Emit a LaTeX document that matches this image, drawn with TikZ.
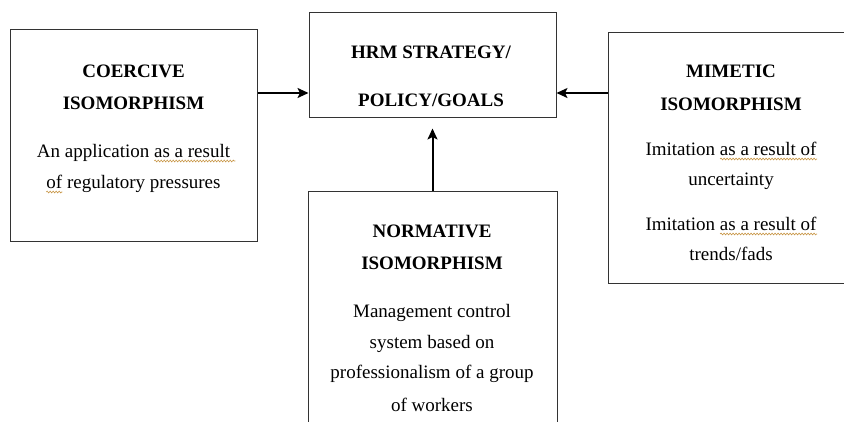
\documentclass[tikz,border=0pt]{standalone}
\usepackage{fontspec}
\setmainfont{Liberation Serif}
\usetikzlibrary{arrows.meta,decorations.pathmorphing}
\definecolor{wavec}{RGB}{200,150,70}
\begin{document}
\begin{tikzpicture}[x=1pt,y=-1pt,
  box/.style={draw=black!80, line width=1pt, rectangle, inner sep=0pt, fill=none},
  txt/.style={anchor=base, inner sep=0pt, font=\fontsize{19}{23}\selectfont},
  hd/.style={anchor=base, inner sep=0pt, font=\fontsize{19}{23}\selectfont\bfseries},
  ph/.style={anchor=base west, inner sep=0pt, font=\fontsize{19}{23}\selectfont},
  wave/.style={draw=wavec, line width=0.6pt, decorate, decoration={snake, amplitude=0.9pt, segment length=3pt}},
  arr/.style={line width=2pt, -{Stealth[length=11pt,width=10pt,inset=2.5pt]}}]
\useasboundingbox (0,0) rectangle (844,421);
\fill[white] (0,0) rectangle (844,421);
\clip (0,0) rectangle (844,421);
% boxes
\node[box, minimum width=247pt, minimum height=212pt] (coer) at (133.5,135) {};
\node[box, minimum width=247pt, minimum height=105pt] (hrm) at (432.5,64.5) {};
\node[box, minimum width=249pt, minimum height=260pt] (norm) at (432.5,321) {};
\node[box, minimum width=246pt, minimum height=251pt] (mim) at (731,157.5) {};
% coercive text
\node[hd] (c1) at (133.5,77) {COERCIVE};
\node[hd] (c2) at (133.5,109) {ISOMORPHISM};
\node[txt] (c3) at (133.5,157) {An application as a result};
\node[txt] (c4) at (133.5,188) {of regulatory pressures};
% hrm text
\node[hd] (h1) at (431,58) {HRM STRATEGY/};
\node[hd] (h2) at (431,106) {POLICY/GOALS};
% normative text
\node[hd] (n1) at (432,237) {NORMATIVE};
\node[hd] (n2) at (432,269) {ISOMORPHISM};
\node[txt] (n3) at (432,317) {Management control};
\node[txt] (n4) at (432,348) {system based on};
\node[txt] (n5) at (432,378) {professionalism of a group};
\node[txt] (n6) at (432,411) {of workers};
% mimetic text
\node[hd] (m1) at (731,77) {MIMETIC};
\node[hd] (m2) at (731,110) {ISOMORPHISM};
\node[txt] (m3) at (731,155) {Imitation as a result of};
\node[txt] (m4) at (731,185) {uncertainty};
\node[txt] (m5) at (731,230) {Imitation as a result of};
\node[txt] (m6) at (731,260) {trends/fads};
% proofing squiggles (measured with invisible phantoms)
\node[ph] (c3p) at (c3.base west) {\phantom{An application\ }};
\node[ph] (c3w) at (c3p.base east) {\phantom{as a result\ }};
\node[ph] (c4w) at (c4.base west) {\phantom{of}};
\node[ph] (m3p) at (m3.base west) {\phantom{Imitation\ }};
\node[ph] (m3w) at (m3p.base east) {\phantom{as a result of}};
\node[ph] (m5p) at (m5.base west) {\phantom{Imitation\ }};
\node[ph] (m5w) at (m5p.base east) {\phantom{as a result of}};
\draw[wave] ([yshift=-4pt]c3w.base west) -- ([yshift=-4pt]c3w.base east);
\draw[wave] ([yshift=-4pt]c4w.base west) -- ([yshift=-4pt]c4w.base east);
\draw[wave] ([yshift=-4pt]m3w.base west) -- ([yshift=-4pt]m3w.base east);
\draw[wave] ([yshift=-4pt]m5w.base west) -- ([yshift=-4pt]m5w.base east);
% arrows
\coordinate (yA) at (0,93);
\draw[arr] (coer.east |- yA) -- (hrm.west |- yA);
\draw[arr] (mim.west |- yA) -- (hrm.east |- yA);
\draw[arr] (norm.north) -- ([yshift=-11pt]hrm.south);
\end{tikzpicture}
\end{document}
